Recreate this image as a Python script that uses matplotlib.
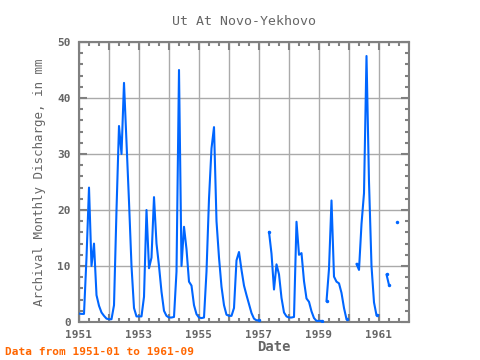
import numpy as np
import pandas as pd
import matplotlib
matplotlib.use("Agg")
import matplotlib.pyplot as plt
from matplotlib.ticker import MultipleLocator, FuncFormatter

nan = np.nan
# monthly discharge, 1951-01 .. 1961-09 (NaN = missing)
y1951 = [1.5, 1.45, 1.45, 11.5, 24, 10, 14, 4.8, 2.9, 1.7, 1.1, 0.6]
y1952 = [0.5, 0.5, 3, 20, 35, 30, 42.7, 32, 21.5, 10, 2.5, 1.0]
y1953 = [1.0, 1.0, 4.5, 20, 9.6, 11.5, 22.3, 14, 10, 5.4, 2.0, 1.1]
y1954 = [0.8, 0.8, 0.9, 9, 45, 10, 17, 13, 7.2, 6.5, 3, 1.4]
y1955 = [0.8, 0.7, 0.8, 9, 22, 31, 34.8, 18, 11.5, 6.3, 3, 1.3]
y1956 = [1.1, 1.1, 2.5, 11, 12.5, 9.3, 6.5, 4.8, 3.2, 1.6, 0.6, 0.3]
y1957 = [0.3, nan, nan, nan, 16.1, 12.2, 5.8, 10.3, 8.5, 4.3, 1.7, 1.0]
y1958 = [0.8, 0.8, 0.9, 17.9, 12, 12.3, 7.3, 4.2, 3.6, 1.9, 0.7, 0.2]
y1959 = [0.2, 0.2, nan, 3.7, 9.5, 21.7, 8.1, 7.2, 6.9, 5.2, 2.5, 0.5]
y1960 = [nan, nan, nan, 10.4, 9.3, 17.5, 23, 47.5, 25, 10, 3.5, 1.2]
y1961 = [nan, nan, nan, 8.5, 6.6, nan, nan, 17.9, nan]

values = np.array(y1951 + y1952 + y1953 + y1954 + y1955 + y1956 +
                  y1957 + y1958 + y1959 + y1960 + y1961)
dates = pd.date_range("1951-01-01", periods=len(values), freq="MS")
t = dates.year + (dates.month - 1) / 12.0

blue = "#0066ff"
gray = "#808080"
txt = "#666666"

fig = plt.figure(figsize=(4.8, 3.6), dpi=100)
ax = fig.add_axes([79 / 480, 1 - 322 / 360, 330 / 480, 280 / 360])

ax.plot(t, values, color=blue, lw=1.5, solid_capstyle="round", zorder=3)

# mark segment ends / isolated points
ok = ~np.isnan(values)
prev_nan = np.r_[True, ~ok[:-1]]
next_nan = np.r_[~ok[1:], True]
ends = ok & (prev_nan | next_nan)
ends[0] = False
ax.plot(t[ends], values[ends], "o", color=blue, ms=2.5, mew=0, zorder=3)

ax.set_xlim(1951, 1962)
ax.set_ylim(0, 50)
ax.xaxis.set_major_locator(MultipleLocator(1))
ax.xaxis.set_major_formatter(FuncFormatter(
    lambda v, p: "%d" % round(v) if round(v) % 2 == 1 else ""))
ax.xaxis.set_minor_locator(MultipleLocator(1 / 3))
ax.yaxis.set_major_locator(MultipleLocator(10))
ax.yaxis.set_minor_locator(MultipleLocator(2))

ax.set_axisbelow(True)
ax.grid(True, which="major", color="#aaaaaa", lw=1)

ax.tick_params(which="both", direction="in", top=True, right=True,
               colors=gray, labelcolor=txt)
ax.tick_params(which="major", length=6, width=1.5, labelsize=8, pad=6)
ax.tick_params(which="minor", length=3, width=1.5)
for lab in ax.get_xticklabels() + ax.get_yticklabels():
    lab.set_family("DejaVu Sans Mono")
    lab.set_fontweight("bold")
ylabs = ax.get_yticklabels()
ylabs[0].set_va("bottom")
ylabs[-1].set_va("top")

for s in ax.spines.values():
    s.set_color(gray)
    s.set_linewidth(1.5)

ax.set_title("Ut At Novo-Yekhovo", family="DejaVu Sans Mono", fontsize=9.5,
             color=txt, pad=12)
ax.set_ylabel("Archival Monthly Discharge, in mm", family="DejaVu Sans Mono",
              fontsize=9, color=txt, labelpad=8)
fig.text(274 / 480, 1 - 347 / 360, "Date", family="DejaVu Sans Mono",
         fontsize=10, fontweight="bold", color=txt, ha="center", va="center")
fig.text(5 / 480, 1 - 352 / 360, "Data from 1951-01 to 1961-09",
         family="DejaVu Sans Mono", fontsize=8, fontweight="bold",
         color="#ff6600", ha="left", va="center")

fig.savefig("out.png", dpi=100)
